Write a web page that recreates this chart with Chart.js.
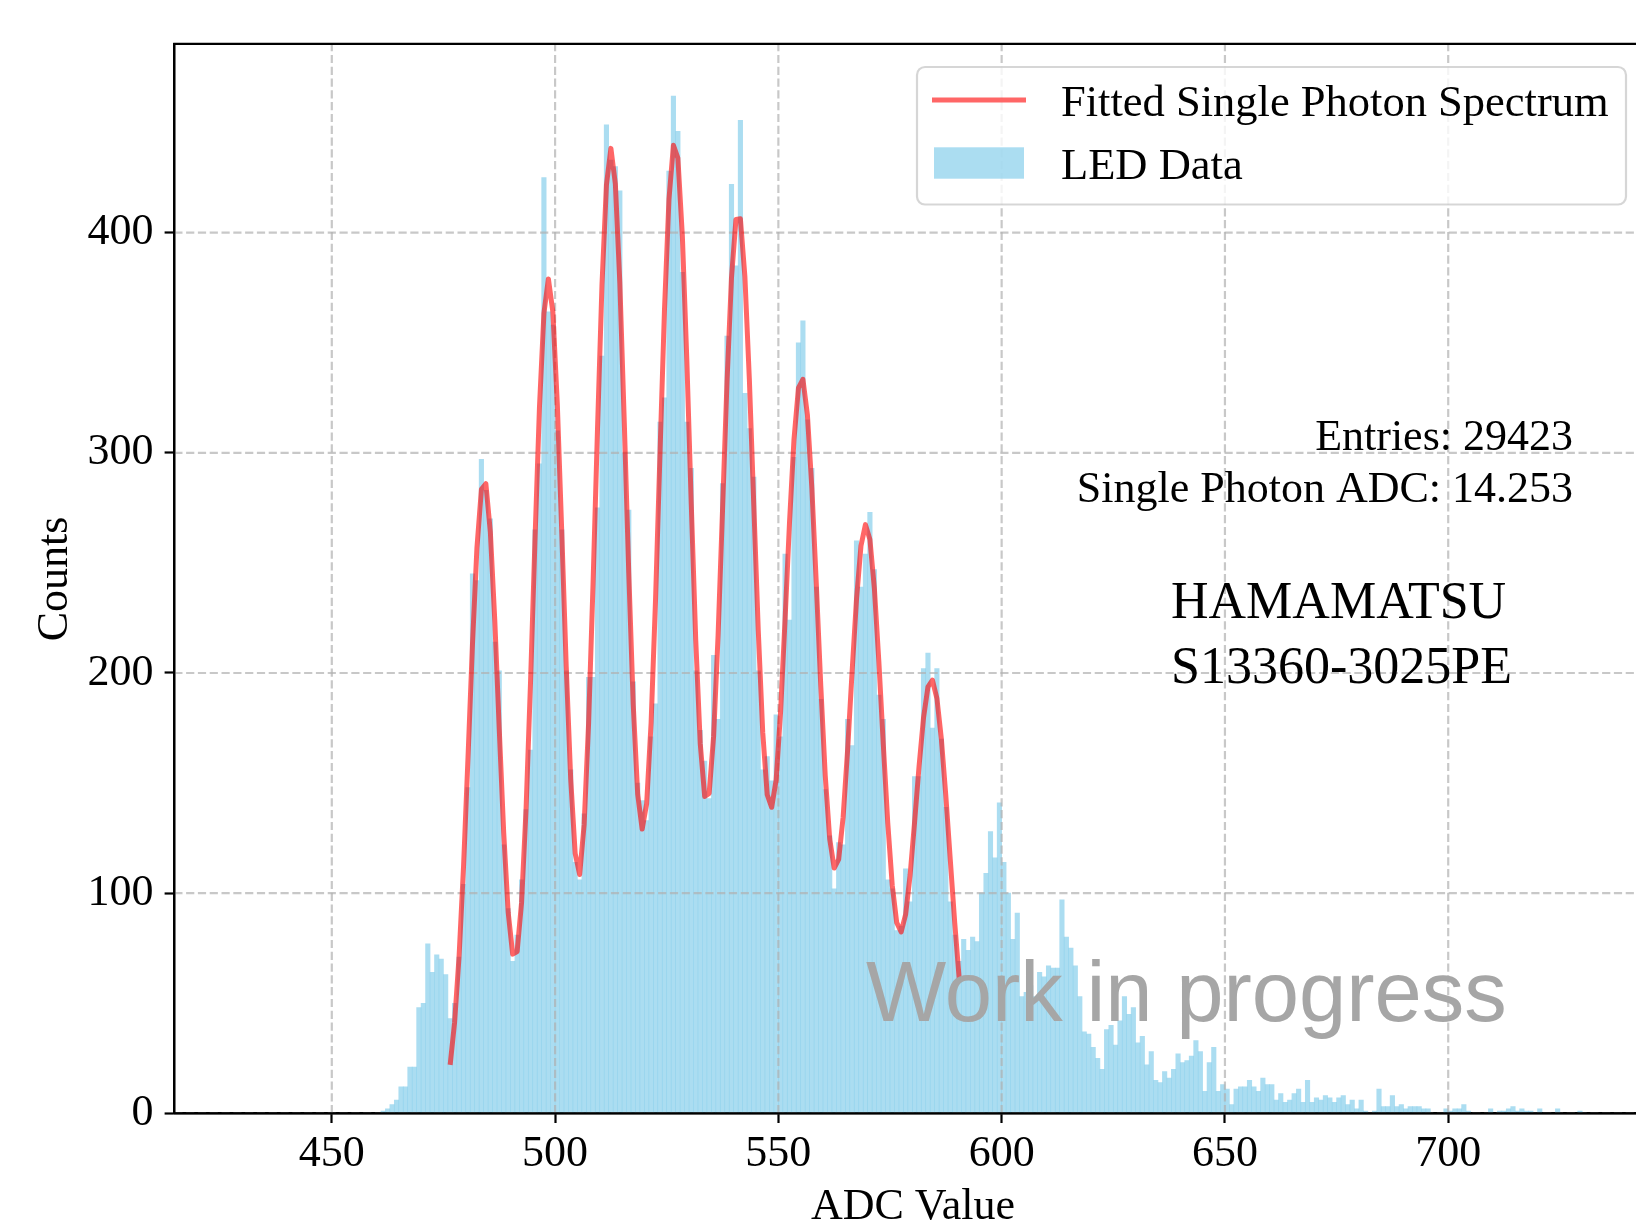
<!DOCTYPE html>
<html>
<head>
<meta charset="utf-8">
<script src="https://cdn.jsdelivr.net/npm/chart.js@4.4.1/dist/chart.umd.min.js"></script>
<style>
  html, body { margin: 0; padding: 0; background: #fff; }
  canvas { display: block; }
</style>
</head>
<body>
<canvas id="spectrum" width="1636" height="1227"></canvas>
<script>
// --- data ---
// histogram: 1 ADC wide bins, first bin starts at 461
var binLow = 461;
var ledCounts = [
  1, 2, 4, 6, 12, 12, 21, 21, 48, 50,            // 461-470
  77, 64, 72, 70, 63, 43, 50, 71, 104, 148,      // 471-480
  245, 242, 297, 283, 270, 214, 201, 122, 93, 69,
  81, 106, 138, 165, 265, 295, 425, 364, 358, 310,
  265, 201, 156, 114, 106, 136, 198, 198, 275, 344,
  449, 433, 430, 419, 300, 274, 196, 150, 142, 133,
  171, 186, 314, 325, 428, 462, 446, 382, 314, 293,
  201, 174, 160, 143, 208, 179, 286, 353, 422, 385,
  451, 327, 311, 289, 201, 156, 162, 151, 181, 171,
  254, 224, 298, 350, 360, 315, 293, 239, 188, 147,
  126, 102, 123, 122, 179, 167, 260, 239, 254, 273,
  247, 190, 179, 106, 102, 83, 85, 111, 96, 153,
  153, 202, 209, 175, 202, 170, 139, 96, 81, 69,
  79, 74, 80, 78, 100, 109, 128, 116, 141, 114,
  100, 79, 91, 53, 55, 58, 53, 64, 62, 67,
  66, 66, 97, 80, 75, 67, 53, 37, 36, 30,
  25, 20, 38, 40, 31, 42, 53, 45, 48, 32,
  35, 22, 28, 15, 14, 19, 16, 20, 27, 23,
  24, 26, 33, 28, 10, 23, 30, 10, 13, 11,
  4, 11, 12, 12, 15, 12, 10, 16, 13, 13,
  6, 9, 5, 6, 9, 11, 5, 15, 5, 7,
  6, 8, 7, 5, 7, 8, 4, 6, 2, 6,
  1, 0, 1, 11, 3, 3, 8, 3, 4, 2,
  3, 3, 3, 2, 2, 0, 0, 0, 2, 1,
  2, 2, 4, 1, 0, 0, 0, 0, 2, 0,
  1, 1, 2, 3, 1, 2, 1, 1, 0, 2,
  0, 0, 0, 2, 0, 0, 0, 0, 1                      // 721-729
];

// fitted curve, sampled at bin centres from 476.5
var fitStart = 476.5;
var fitCounts = [
  22.0, 41.4, 71.3, 112.2, 161.7, 213.1, 256.9, 283.4, 286.0, 264.2,
  223.7, 174.4, 127.3, 91.2, 72.3, 73.5, 95.9, 138.2, 195.8, 260.6,
  320.7, 363.4, 379.0, 364.0, 322.1, 263.8, 202.7, 151.8, 118.0, 108.5,
  131.0, 177.0, 240.5, 311.0, 376.3, 421.7, 438.3, 422.1, 377.2, 313.7,
  245.5, 185.7, 144.8, 129.1, 140.6, 177.3, 233.7, 300.4, 365.2, 415.2,
  439.7, 433.9, 398.6, 342.1, 276.5, 214.8, 168.1, 143.9, 145.3, 171.3,
  217.1, 274.3, 332.4, 379.5, 406.0, 406.3, 380.2, 333.6, 276.1, 219.3,
  173.0, 144.7, 139.0, 151.4, 182.5, 224.4, 268.6, 306.2, 329.5, 333.4,
  317.3, 284.1, 240.3, 194.0, 153.3, 124.5, 111.4, 115.3, 134.5, 164.9,
  200.3, 233.6, 257.8, 267.4, 260.6, 238.4, 205.3, 167.5, 131.8, 103.6,
  86.6, 82.4, 90.4, 108.2, 132.2, 157.6, 179.6, 193.7, 196.8, 188.5,
  170.0, 144.2, 115.1, 86.4, 61.0
];

var xTickValues = [450, 500, 550, 600, 650, 700];
var yTickValues = [0, 100, 200, 300, 400];
var legendLabels = ['Fitted Single Photon Spectrum', 'LED Data'];
var statLines = ['Entries: 29423', 'Single Photon ADC: 14.253'];
var deviceLines = ['HAMAMATSU', 'S13360-3025PE'];
var watermark = 'Work in progress';

var SERIF = '"Liberation Serif", "Times New Roman", serif';
var BAR_COLOR = 'rgba(135,206,235,0.7)';
var FIT_COLOR = 'rgba(255,0,0,0.6)';

function roundedBox(ctx, x, y, w, h, r) {
  ctx.beginPath();
  ctx.moveTo(x + r, y);
  ctx.arcTo(x + w, y, x + w, y + h, r);
  ctx.arcTo(x + w, y + h, x, y + h, r);
  ctx.arcTo(x, y + h, x, y, r);
  ctx.arcTo(x, y, x + w, y, r);
  ctx.closePath();
}

var overlay = {
  id: 'overlay',
  beforeDraw: function (chart) {
    var ctx = chart.ctx;
    ctx.save();
    ctx.fillStyle = '#fff';
    ctx.fillRect(0, 0, chart.width, chart.height);
    ctx.restore();
  },
  // grid sits above the bars but below the fit line, like matplotlib
  afterDatasetDraw: function (chart, args) {
    if (args.index !== 1) return;
    var ctx = chart.ctx, a = chart.chartArea;
    var sx = chart.scales.x, sy = chart.scales.y;
    ctx.save();
    ctx.beginPath();
    ctx.rect(a.left, a.top, a.right - a.left, a.bottom - a.top);
    ctx.clip();
    ctx.strokeStyle = 'rgba(176,176,176,0.7)';
    ctx.lineWidth = 2.2;
    ctx.setLineDash([8.2, 3.6]);
    xTickValues.forEach(function (v) {
      var px = sx.getPixelForValue(v);
      ctx.beginPath(); ctx.moveTo(px, a.bottom); ctx.lineTo(px, a.top); ctx.stroke();
    });
    yTickValues.forEach(function (v) {
      var py = sy.getPixelForValue(v);
      ctx.beginPath(); ctx.moveTo(a.left, py); ctx.lineTo(a.right, py); ctx.stroke();
    });
    ctx.restore();
  },
  afterDraw: function (chart) {
    var ctx = chart.ctx, a = chart.chartArea;
    ctx.save();

    // spines
    ctx.strokeStyle = '#000';
    ctx.lineWidth = 2.2;
    ctx.beginPath();
    ctx.moveTo(a.right + 2, a.top); ctx.lineTo(a.left, a.top);
    ctx.lineTo(a.left, a.bottom); ctx.lineTo(a.right + 2, a.bottom);
    ctx.stroke();

    // watermark
    ctx.fillStyle = '#a6a6a6';
    ctx.font = '85px "Liberation Sans", Arial, sans-serif';
    ctx.textAlign = 'left';
    ctx.textBaseline = 'alphabetic';
    ctx.fillText(watermark, 866, 1021);

    // axis titles
    ctx.fillStyle = '#000';
    ctx.font = '44px ' + SERIF;
    ctx.textAlign = 'center';
    ctx.fillText('ADC Value', 913, 1219);
    ctx.save();
    ctx.translate(67, 579);
    ctx.rotate(-Math.PI / 2);
    ctx.fillText('Counts', 0, 0);
    ctx.restore();

    // stats text
    ctx.textAlign = 'right';
    ctx.fillText(statLines[0], 1573, 450);
    ctx.fillText(statLines[1], 1573, 502);
    ctx.font = '52px ' + SERIF;
    ctx.textAlign = 'left';
    ctx.fillText(deviceLines[0], 1171, 618);
    ctx.fillText(deviceLines[1], 1171, 683);

    // legend
    roundedBox(ctx, 917, 67, 709, 137.5, 8);
    ctx.fillStyle = 'rgba(255,255,255,0.8)';
    ctx.fill();
    ctx.strokeStyle = 'rgba(204,204,204,0.8)';
    ctx.lineWidth = 2.2;
    ctx.stroke();
    ctx.strokeStyle = FIT_COLOR;
    ctx.lineWidth = 5;
    ctx.beginPath(); ctx.moveTo(932, 100); ctx.lineTo(1026, 100); ctx.stroke();
    ctx.fillStyle = BAR_COLOR;
    ctx.fillRect(934, 147.3, 90, 31.4);
    ctx.fillStyle = '#000';
    ctx.font = '44.5px ' + SERIF;
    ctx.fillText(legendLabels[0], 1061, 116);
    ctx.fillText(legendLabels[1], 1061, 178.5);

    ctx.restore();
  }
};

function init() {
  var canvas = document.getElementById('spectrum');
  if (typeof Chart === 'undefined' || !canvas) return;

  var ledPoints = ledCounts.map(function (c, i) { return { x: binLow + i + 0.5, y: c }; });
  var fitPoints = fitCounts.map(function (c, i) { return { x: fitStart + i, y: c }; });

  var tickFont = { family: SERIF, size: 44 };

  new Chart(canvas.getContext('2d'), {
    type: 'bar',
    data: {
      datasets: [
        {
          type: 'line',
          label: legendLabels[0],
          data: fitPoints,
          borderColor: FIT_COLOR,
          borderWidth: 5,
          borderJoinStyle: 'round',
          pointRadius: 0,
          tension: 0,
          fill: false
        },
        {
          type: 'bar',
          label: legendLabels[1],
          data: ledPoints,
          backgroundColor: BAR_COLOR,
          borderWidth: 0,
          barPercentage: 1,
          categoryPercentage: 1
        }
      ]
    },
    options: {
      responsive: false,
      animation: false,
      devicePixelRatio: 1,
      layout: { padding: { top: 43.8, right: 0, bottom: 0, left: 0 } },
      plugins: { legend: { display: false }, tooltip: { enabled: false } },
      scales: {
        x: {
          type: 'linear',
          min: 414.73,
          max: 742.05,
          offset: false,
          afterBuildTicks: function (s) { s.ticks = xTickValues.map(function (v) { return { value: v }; }); },
          afterFit: function (s) { s.height = 113.7; },
          grid: { offset: false, drawOnChartArea: false, tickLength: 9.7, tickWidth: 2.2, tickColor: '#000' },
          border: { display: true, color: '#000', width: 2.2 },
          ticks: { font: tickFont, color: '#000', padding: 5, maxRotation: 0, autoSkip: false }
        },
        y: {
          type: 'linear',
          min: 0,
          max: 485.8,
          afterBuildTicks: function (s) { s.ticks = yTickValues.map(function (v) { return { value: v }; }); },
          afterFit: function (s) { s.width = 174.3; },
          grid: { offset: false, drawOnChartArea: false, tickLength: 9.7, tickWidth: 2.2, tickColor: '#000' },
          border: { display: true, color: '#000', width: 2.2 },
          ticks: { font: tickFont, color: '#000', padding: 11, autoSkip: false }
        }
      }
    },
    plugins: [overlay]
  });
}

if (document.readyState === 'loading') {
  document.addEventListener('DOMContentLoaded', init);
} else {
  init();
}
</script>
</body>
</html>
